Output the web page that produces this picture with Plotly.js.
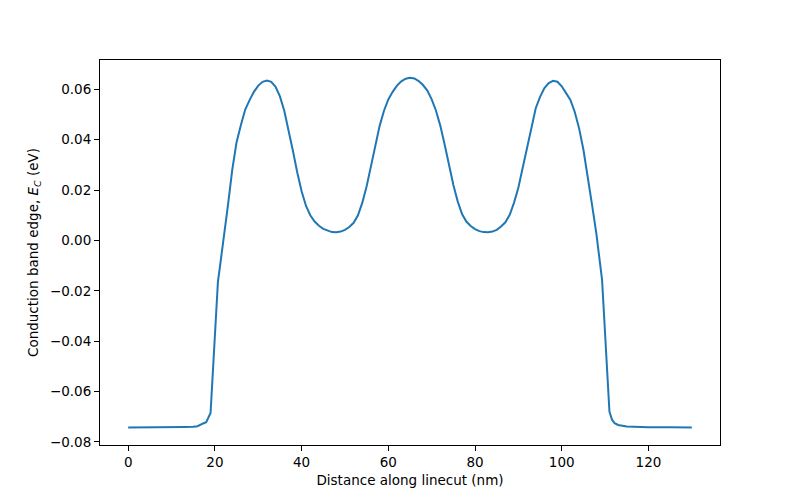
<!DOCTYPE html>
<html>
<head>
<meta charset="utf-8">
<script src="https://cdn.plot.ly/plotly-3.0.1.min.js"></script>
<style>
  body { margin: 0; background: #fff; }
  #plot { width: 800px; height: 500px; }
</style>
</head>
<body>
<div id="plot"></div>
<script>
// distance along the linecut (nm)
const distance = [
    0, 5, 10, 13, 15, 16, 17.3, 18, 19, 20.7,
    21, 22, 23, 24, 25, 26, 27, 28, 29, 30,
    31, 32, 33, 34, 35, 36, 37, 38, 39, 40,
    41, 42, 43, 44, 45, 46, 47, 48, 49, 50,
    51, 52, 53, 54, 55, 56, 57, 58, 59, 60,
    61, 62, 63, 64, 65, 66, 67, 68, 69, 70,
    71, 72, 73, 74, 75, 76, 77, 78, 79, 80,
    81, 82, 83, 84, 85, 86, 87, 88, 89, 90,
    91, 92, 93, 94, 95, 96, 97, 98, 99, 100,
    101, 102, 103, 104, 105, 106, 107, 108, 109.3, 111.0,
    111.6, 112.2, 113, 115, 117, 120, 125, 130
];

// conduction band edge E_C (eV)
const bandEdge = [
    -0.0743, -0.0743, -0.0742, -0.0741, -0.0740, -0.0738, -0.0727, -0.0722, -0.0685, -0.0164,
    -0.0126, -0.0001, 0.0138, 0.0280, 0.0390, 0.0458, 0.0520, 0.0557, 0.0590, 0.0615,
    0.0630, 0.0635, 0.0630, 0.0610, 0.0572, 0.0515, 0.0440, 0.0355, 0.0270, 0.0195,
    0.0138, 0.0100, 0.0075, 0.0058, 0.0046, 0.0038, 0.0033, 0.0032, 0.0035, 0.0042,
    0.0053, 0.0070, 0.0100, 0.0150, 0.0215, 0.0295, 0.0380, 0.0455, 0.0515, 0.0560,
    0.0590, 0.0615, 0.0632, 0.0642, 0.0646, 0.0643, 0.0633, 0.0617, 0.0595, 0.0560,
    0.0515, 0.0455, 0.0380, 0.0300, 0.0220, 0.0155, 0.0105, 0.0075, 0.0057, 0.0045,
    0.0037, 0.0033, 0.0032, 0.0035, 0.0042, 0.0055, 0.0072, 0.0102, 0.0150, 0.0210,
    0.0290, 0.0375, 0.0455, 0.0525, 0.0570, 0.0605, 0.0625, 0.0634, 0.0630, 0.0612,
    0.0585, 0.0558, 0.0510, 0.0445, 0.0360, 0.0255, 0.0140, 0.0025, -0.0157, -0.0680,
    -0.0712, -0.0726, -0.0733, -0.0739, -0.0741, -0.0742, -0.0742, -0.0743
];

const xTicks = [0, 20, 40, 60, 80, 100, 120];
const yTicks = [-0.08, -0.06, -0.04, -0.02, 0.00, 0.02, 0.04, 0.06];

const font = {family: 'DejaVu Sans, sans-serif', size: 13.5, color: '#000'};

const trace = {
    x: distance,
    y: bandEdge,
    type: 'scatter',
    mode: 'lines',
    line: {color: '#1f77b4', width: 2},
    hoverinfo: 'skip'
};

const axisBase = {
    showgrid: false,
    zeroline: false,
    showline: true,
    mirror: true,
    linecolor: '#000',
    linewidth: 1,
    ticks: 'outside',
    ticklen: 5,
    tickwidth: 1,
    tickcolor: '#000',
    tickfont: font
};

const layout = {
    width: 800,
    height: 500,
    margin: {l: 100, r: 80, t: 60, b: 55},
    paper_bgcolor: '#fff',
    plot_bgcolor: '#fff',
    font: font,
    showlegend: false,
    xaxis: Object.assign({}, axisBase, {
        range: [-6.5, 136.5],
        tickmode: 'array',
        tickvals: xTicks,
        ticktext: xTicks.map(String),
        title: {text: 'Distance along linecut (nm)', font: font, standoff: 6}
    }),
    yaxis: Object.assign({}, axisBase, {
        range: [-0.08125, 0.07165],
        tickmode: 'array',
        tickvals: yTicks,
        ticktext: yTicks.map(v => (v < 0 ? '\u2212' : '') + Math.abs(v).toFixed(2)),
        title: {text: 'Conduction band edge, <i>E</i><sub><i>C</i></sub> (eV)', font: font, standoff: 8}
    })
};

Plotly.newPlot('plot', [trace], layout, {staticPlot: true, displayModeBar: false});
</script>
</body>
</html>
